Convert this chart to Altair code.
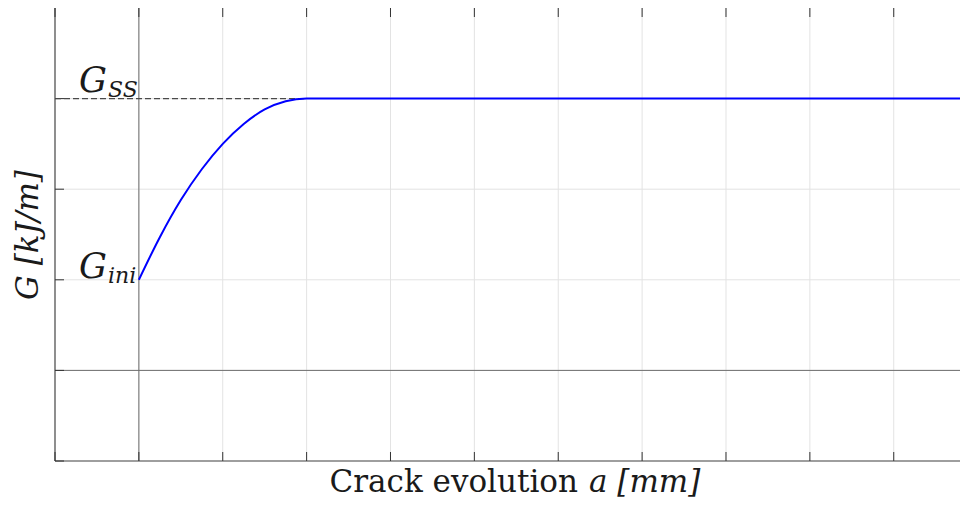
import altair as alt
import pandas as pd

# data
a_curve = [0, 0.25, 0.5, 0.75, 1.0, 1.25, 1.5, 1.75, 2.0, 9.79]
g_curve = [1, 1.47, 1.88, 2.22, 2.5, 2.72, 2.88, 2.97, 3.0, 3.0]
a_ss = [-1, 2]
g_ss = [3, 3]
x_ticks = [-1, 0, 1, 2, 3, 4, 5, 6, 7, 8, 9]
y_ticks = [-1, 0, 1, 2, 3]
x_min, x_max = -1, 9.79
y_min, y_max = -1, 4

W, H = 905, 453
xs = alt.Scale(domain=[x_min, x_max], nice=False, zero=False)
ys = alt.Scale(domain=[y_min, y_max], nice=False, zero=False)

curve = pd.DataFrame({"a": a_curve, "G": g_curve})
ss = pd.DataFrame({"a": a_ss, "G": g_ss})
xt = pd.DataFrame({"a": x_ticks})
yt = pd.DataFrame({"G": y_ticks})

X = lambda f: alt.X(f, type="quantitative", scale=xs, axis=None)
Y = lambda f: alt.Y(f, type="quantitative", scale=ys, axis=None)

grid_v = alt.Chart(xt).mark_rule(color="#e3e3e3", strokeWidth=1).encode(x=X("a"))
grid_h = alt.Chart(yt).mark_rule(color="#e3e3e3", strokeWidth=1).encode(y=Y("G"))

zero_v = alt.Chart(pd.DataFrame({"a": [0]})).mark_rule(color="#6e6e6e", strokeWidth=1).encode(x=X("a"))
zero_h = alt.Chart(pd.DataFrame({"G": [0]})).mark_rule(color="#6e6e6e", strokeWidth=1).encode(y=Y("G"))

left_ax = alt.Chart(pd.DataFrame({"a": [x_min]})).mark_rule(color="#4d4d4d", strokeWidth=1.2).encode(x=X("a"))
bot_ax = alt.Chart(pd.DataFrame({"G": [y_min]})).mark_rule(color="#4d4d4d", strokeWidth=1.2).encode(y=Y("G"))

top_ticks = alt.Chart(xt).mark_rule(color="#333333", strokeWidth=1).encode(
    x=X("a"), y=alt.value(0), y2=alt.value(9))
bot_ticks = alt.Chart(xt).mark_rule(color="#333333", strokeWidth=1).encode(
    x=X("a"), y=alt.value(H - 9), y2=alt.value(H))
left_ticks = alt.Chart(yt).mark_rule(color="#333333", strokeWidth=1).encode(
    y=Y("G"), x=alt.value(0), x2=alt.value(9))

dashed = alt.Chart(ss).mark_line(color="#4a4a4a", strokeWidth=1.3, strokeDash=[6, 3]).encode(
    x=X("a"), y=Y("G"))
line = alt.Chart(curve).mark_line(color="#0000ff", strokeWidth=2, interpolate="monotone").encode(
    x=X("a"), y=Y("G"))

serif = "DejaVu Serif"

def txt(s, x, y, size, style="normal", align="left", angle=0, baseline="alphabetic"):
    return alt.Chart(pd.DataFrame({"t": [s]})).mark_text(
        font=serif, fontSize=size, fontStyle=style, align=align, baseline=baseline,
        angle=angle, color="#1a1a1a"
    ).encode(text="t:N", x=alt.value(x), y=alt.value(y))

labels = [
    txt("Crack evolution", 523, 484, 31, align="right"),
    txt("a [mm]", 534, 484, 31, style="italic"),
    txt("G [kJ/m]", -26, 227, 31, style="italic", align="center", angle=270, baseline="middle"),
    txt("G", 52, 84, 35, style="italic", align="right"),
    txt("SS", 53, 89, 22, style="italic"),
    txt("G", 52, 270, 35, style="italic", align="right"),
    txt("ini", 53, 275, 22, style="italic"),
]

chart = alt.layer(
    grid_v, grid_h, zero_v, zero_h, left_ax, bot_ax,
    top_ticks, bot_ticks, left_ticks, dashed, line, *labels
).properties(
    width=W, height=H,
    autosize=alt.AutoSizeParams(type="none"),
    padding={"left": 47, "top": 0, "right": 0, "bottom": 38},
).configure_view(stroke=None)

chart.save("out.html", embed_options={"renderer": "svg", "actions": False})
